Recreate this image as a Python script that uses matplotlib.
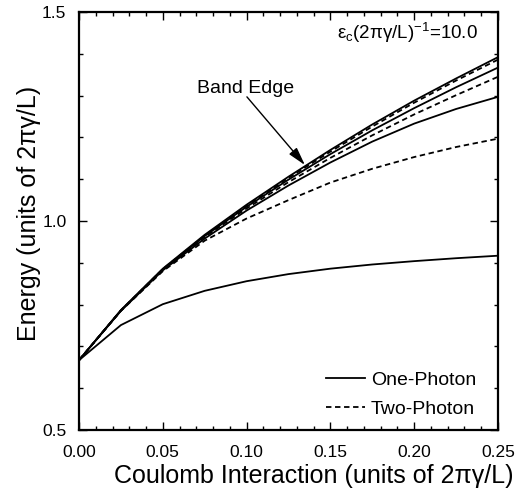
import matplotlib
matplotlib.use("Agg")
import matplotlib.pyplot as plt
from matplotlib.ticker import MultipleLocator
from matplotlib.lines import Line2D

plt.rcParams['font.family'] = ['Liberation Sans', 'DejaVu Sans']
plt.rcParams['mathtext.fontset'] = 'custom'
plt.rcParams['mathtext.rm'] = 'Liberation Sans'
plt.rcParams['mathtext.it'] = 'Liberation Sans:italic'

# Coulomb interaction values
x = [0.0, 0.025, 0.05, 0.075, 0.10, 0.125, 0.15, 0.175, 0.20, 0.225, 0.25]

# energies (units of 2*pi*gamma/L)
one_a = [0.667, 0.787, 0.886, 0.967, 1.039, 1.106, 1.170, 1.231, 1.288, 1.341, 1.392]
two_a = [0.667, 0.786, 0.885, 0.965, 1.036, 1.103, 1.166, 1.226, 1.283, 1.336, 1.386]
one_b = [0.667, 0.786, 0.884, 0.964, 1.034, 1.099, 1.160, 1.217, 1.270, 1.320, 1.367]
two_b = [0.667, 0.786, 0.883, 0.962, 1.030, 1.093, 1.151, 1.205, 1.255, 1.301, 1.345]
one_c = [0.667, 0.785, 0.882, 0.958, 1.025, 1.085, 1.140, 1.190, 1.233, 1.268, 1.297]
two_c = [0.667, 0.785, 0.880, 0.953, 1.006, 1.050, 1.092, 1.125, 1.153, 1.177, 1.197]
one_d = [0.667, 0.751, 0.801, 0.833, 0.856, 0.873, 0.886, 0.896, 0.904, 0.911, 0.917]

fig = plt.figure(figsize=(5.17, 4.98), dpi=100)
ax = fig.add_axes([0.1528, 0.1365, 0.8104, 0.8394])

for ys in [one_a, one_b, one_c, one_d]:
    ax.plot(x, ys, color='black', linewidth=1.3)
for ys in [two_a, two_b, two_c]:
    ax.plot(x, ys, color='black', linewidth=1.3, linestyle=(0, (3, 2)))

ax.set_xlim(0, 0.25)
ax.set_ylim(0.5, 1.5)
ax.xaxis.set_minor_locator(MultipleLocator(0.01))
ax.yaxis.set_minor_locator(MultipleLocator(0.1))
ax.set_xticks([0, 0.05, 0.10, 0.15, 0.20, 0.25])
ax.set_xticklabels(['0.00', '0.05', '0.10', '0.15', '0.20', '0.25'])
ax.set_yticks([0.5, 1.0, 1.5])
ax.set_yticklabels(['0.5', '1.0', '1.5'])
ax.tick_params(which='both', direction='in', top=True, right=True, labelsize=12.5, width=1)
ax.tick_params(which='major', length=6)
ax.tick_params(which='minor', length=3)
ax.tick_params(axis='x', pad=11)
ax.tick_params(axis='y', pad=9)
for s in ax.spines.values():
    s.set_linewidth(1.6)

ax.set_xlabel('Coulomb Interaction (units of 2πγ/L)', fontsize=18, labelpad=3)
ax.set_ylabel('Energy (units of 2πγ/L)', fontsize=18, labelpad=1)
ax.xaxis.label.set_x(0.561)
ax.yaxis.label.set_y(0.517)

ax.text(0.238, 1.45, 'ε$_{\\rm c}$(2πγ/L)$^{-1}$=10.0',
        ha='right', va='center', fontsize=13.5)

ax.text(0.0996, 1.316, 'Band Edge', ha='center', va='center', fontsize=14)
ax.annotate('', xy=(0.1348, 1.134), xytext=(0.1002, 1.297),
            arrowprops=dict(arrowstyle='-|>,head_length=1.1,head_width=0.3',
                            color='black', lw=1, mutation_scale=10,
                            shrinkA=0, shrinkB=0))

handles = [Line2D([], [], color='black', lw=1.3),
           Line2D([], [], color='black', lw=1.3, linestyle=(0, (3, 2)))]
ax.legend(handles, ['One-Photon', 'Two-Photon'], loc='lower right',
          bbox_to_anchor=(0.966, 0.01), frameon=False, fontsize=14,
          handlelength=2.0, handletextpad=0.3, borderaxespad=0,
          labelspacing=0.6)

fig.savefig('out.png', dpi=100)
